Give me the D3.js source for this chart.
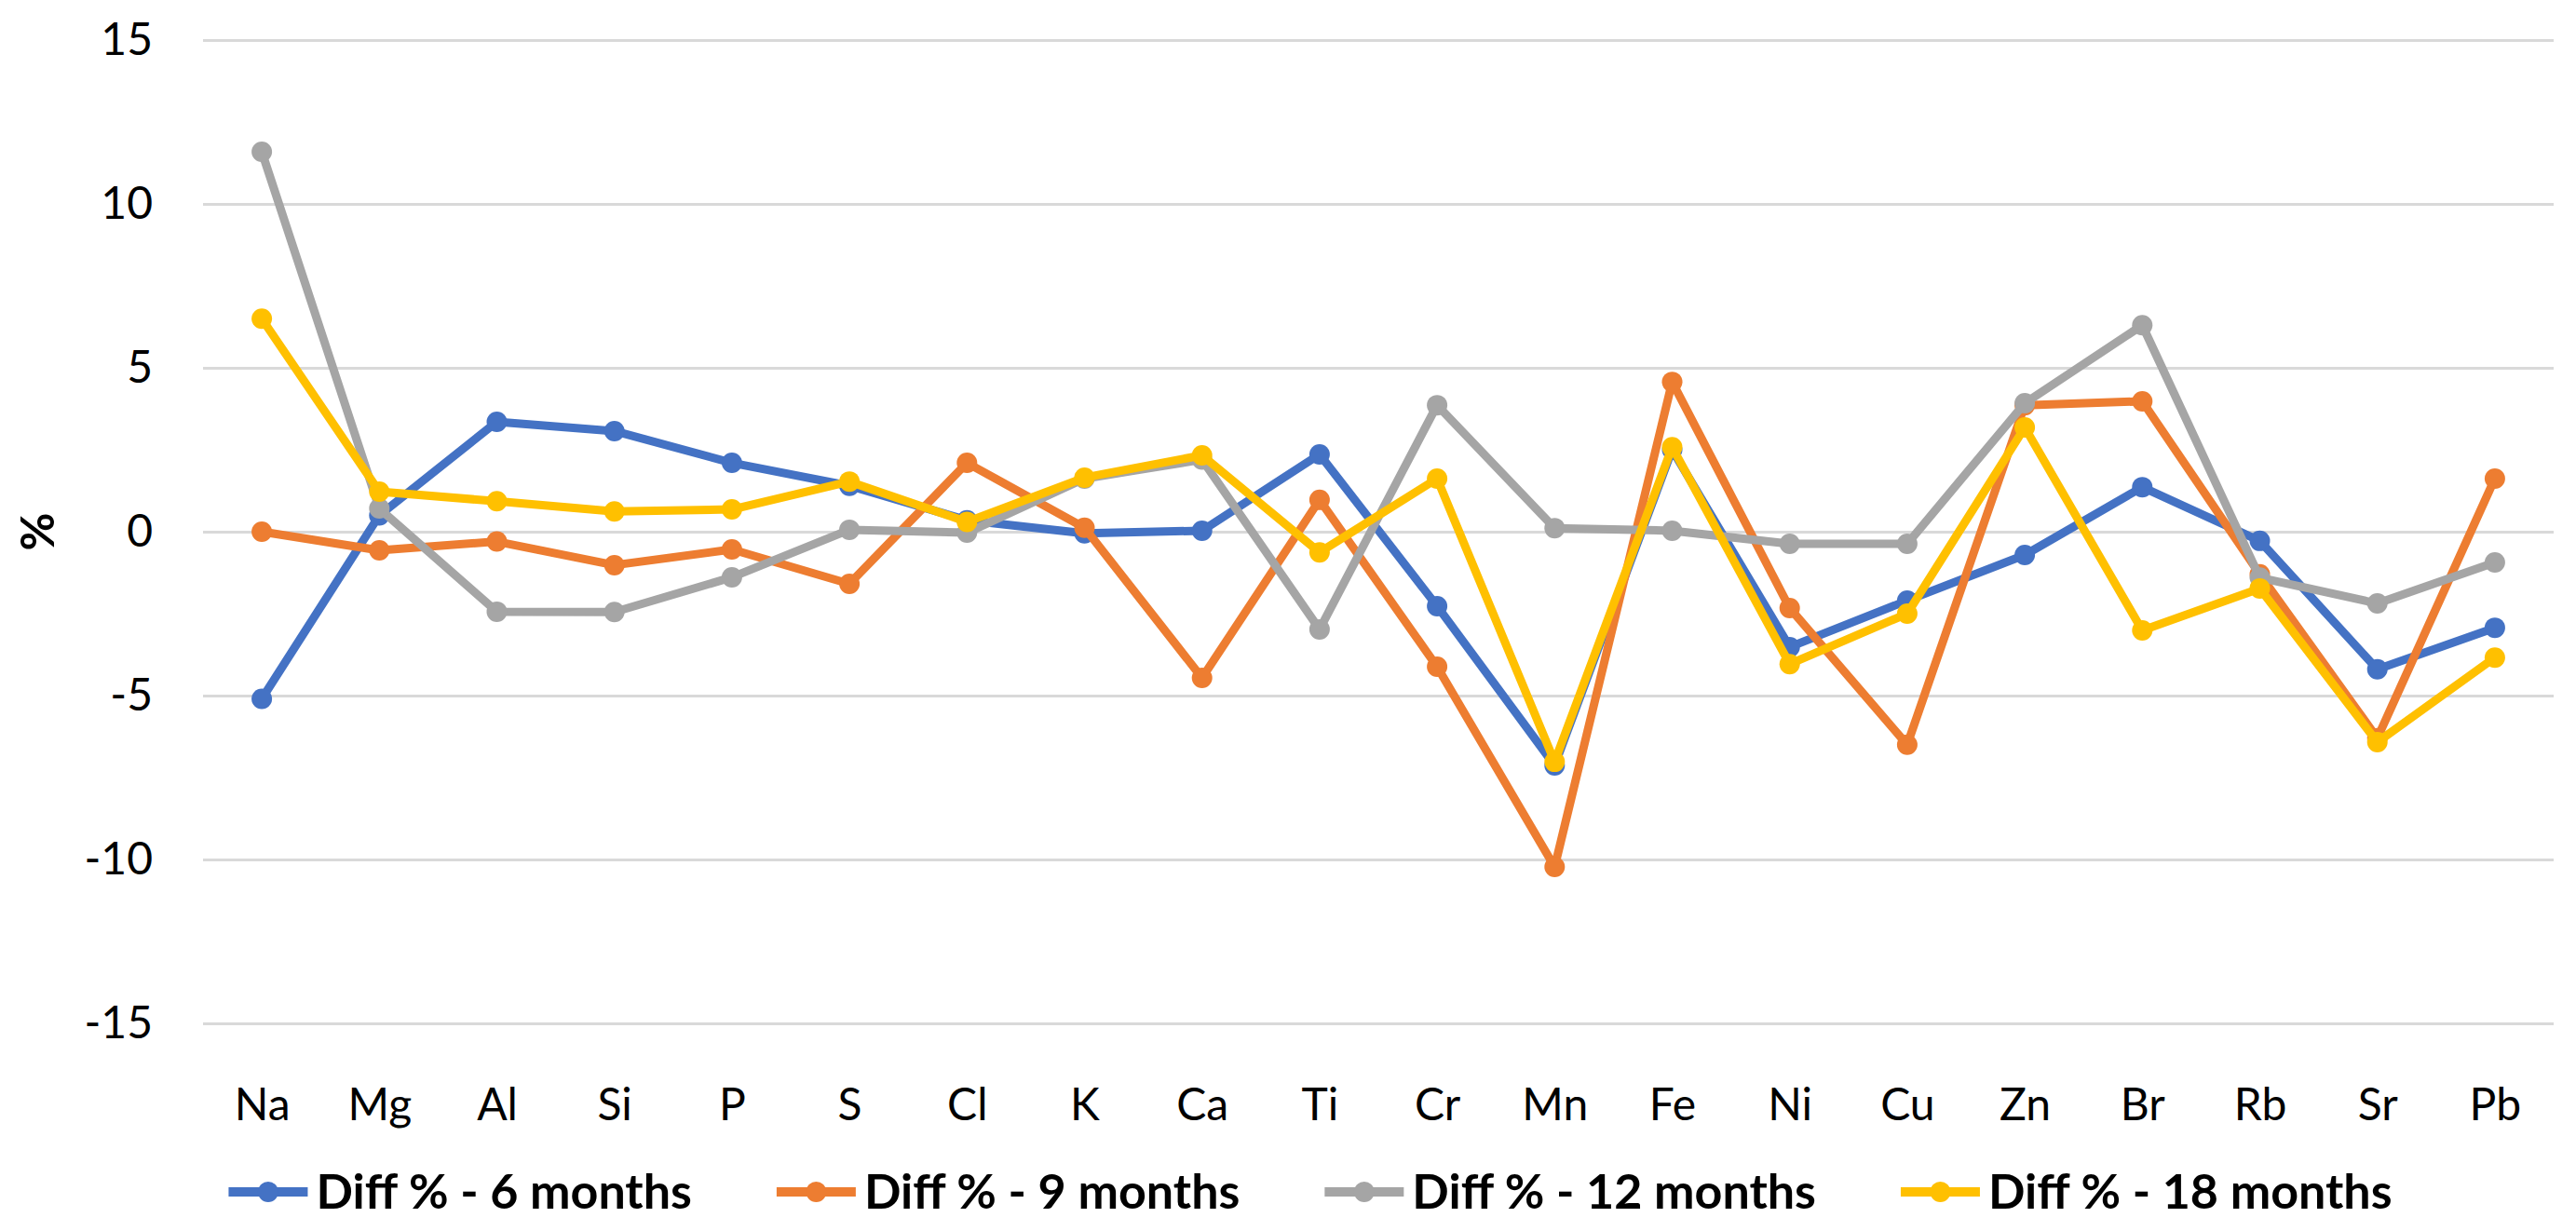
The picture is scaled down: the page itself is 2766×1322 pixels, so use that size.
<!DOCTYPE html>
<html>
<head>
<meta charset="utf-8">
<script src="https://cdn.jsdelivr.net/npm/d3@7"></script>
<style>
  body { margin: 0; background: #fff; }
  text { font-family: Lato, "Open Sans", sans-serif; fill: #000; }
</style>
</head>
<body>
<div id="chart"></div>
<script>
// Element list along the x axis
const elements = ['Na', 'Mg', 'Al', 'Si', 'P', 'S', 'Cl', 'K', 'Ca', 'Ti',
                  'Cr', 'Mn', 'Fe', 'Ni', 'Cu', 'Zn', 'Br', 'Rb', 'Sr', 'Pb'];

// Diff % values
const diff6  = [-5.1, 0.5, 3.35, 3.07, 2.1, 1.4, 0.35, -0.05, 0.03, 2.36,
                -2.27, -7.13, 2.5, -3.52, -2.1, -0.71, 1.36, -0.28, -4.2, -2.93];
const diff9  = [0.0, -0.57, -0.3, -1.02, -0.54, -1.59, 2.1, 0.12, -4.46, 0.97,
                -4.12, -10.23, 4.57, -2.33, -6.5, 3.86, 3.98, -1.3, -6.3, 1.62];
const diff12 = [11.59, 0.71, -2.44, -2.45, -1.39, 0.06, -0.03, 1.62, 2.2, -2.98,
                3.86, 0.11, 0.03, -0.37, -0.37, 3.92, 6.3, -1.4, -2.19, -0.94];
const diff18 = [6.5, 1.22, 0.93, 0.62, 0.68, 1.53, 0.3, 1.65, 2.33, -0.63,
                1.62, -7.02, 2.58, -4.04, -2.5, 3.18, -3.01, -1.73, -6.42, -3.84];

const seriesNames = ['Diff % - 6 months', 'Diff % - 9 months', 'Diff % - 12 months', 'Diff % - 18 months'];
const seriesColors = ['#4472C4', '#ED7D31', '#A5A5A5', '#FFC000'];
const yTicks = [-15, -10, -5, 0, 5, 10, 15];

const width = 2766;
const height = 1322;
const plot = { left: 218, right: 2742, top: 43, bottom: 1099 };

const series = [diff6, diff9, diff12, diff18].map((vals, i) => ({
    name: seriesNames[i],
    color: seriesColors[i],
    points: vals.map((v, j) => ({ el: elements[j], v: v }))
}));

const svg = d3.select('#chart')
    .append('svg')
    .attr('width', width)
    .attr('height', height);

const x = d3.scalePoint()
    .domain(elements)
    .range([plot.left, plot.right])
    .padding(0.5);

const y = d3.scaleLinear()
    .domain([-15, 15])
    .range([plot.bottom, plot.top]);

// Gridlines + y tick labels (plain hyphen for negatives, like Excel)
const yAxis = svg.append('g')
    .attr('transform', `translate(${plot.left},0)`)
    .call(d3.axisLeft(y)
        .tickValues(yTicks)
        .tickSize(-(plot.right - plot.left))
        .tickPadding(54)
        .tickFormat(d => String(d)));
yAxis.select('.domain').remove();
yAxis.selectAll('line')
    .attr('stroke', '#D9D9D9')
    .attr('stroke-width', 3);
yAxis.selectAll('text')
    .attr('font-size', 48)
    .attr('font-family', 'Lato, sans-serif')
    .attr('fill', '#000');

// x category labels
const xAxis = svg.append('g')
    .attr('transform', `translate(0,${plot.bottom})`)
    .call(d3.axisBottom(x).tickSize(0).tickPadding(70));
xAxis.select('.domain').remove();
xAxis.selectAll('text')
    .attr('font-size', 48)
    .attr('font-family', 'Lato, sans-serif')
    .attr('fill', '#000');

// y axis title
svg.append('text')
    .attr('transform', `translate(58,${y(0)}) rotate(-90)`)
    .attr('text-anchor', 'middle')
    .attr('font-size', 50)
    .attr('font-weight', 'bold')
    .text('%');

// Lines and markers
const line = d3.line()
    .x(d => x(d.el))
    .y(d => y(d.v));

const sg = svg.selectAll('.series')
    .data(series)
    .enter()
    .append('g')
    .attr('class', 'series');

sg.append('path')
    .attr('d', d => line(d.points))
    .attr('fill', 'none')
    .attr('stroke', d => d.color)
    .attr('stroke-width', 9)
    .attr('stroke-linejoin', 'round');

sg.selectAll('circle')
    .data(d => d.points.map(p => ({ ...p, color: d.color })))
    .enter()
    .append('circle')
    .attr('cx', d => x(d.el))
    .attr('cy', d => y(d.v))
    .attr('r', 11)
    .attr('fill', d => d.color);

// Legend
const legendY = 1280;
const legend = svg.append('g');
const items = legend.selectAll('.item')
    .data(series)
    .enter()
    .append('g')
    .attr('class', 'item');

items.append('text')
    .attr('x', 94)
    .attr('y', legendY)
    .attr('dy', '0.35em')
    .attr('font-size', 52)
    .attr('font-weight', 'bold')
    .text(d => d.name);

let offset = 0;
const positions = [];
items.each(function() {
    const w = this.querySelector('text').getComputedTextLength();
    positions.push(offset);
    offset += 94 + w + 91;
});
const totalW = offset - 91;
const startX = 1407 - totalW / 2;

items.attr('transform', (d, i) => `translate(${startX + positions[i]},0)`);

items.append('line')
    .attr('x1', 0)
    .attr('x2', 85)
    .attr('y1', legendY)
    .attr('y2', legendY)
    .attr('stroke', d => d.color)
    .attr('stroke-width', 10);

items.append('circle')
    .attr('cx', 42.5)
    .attr('cy', legendY)
    .attr('r', 11)
    .attr('fill', d => d.color);
</script>
</body>
</html>
